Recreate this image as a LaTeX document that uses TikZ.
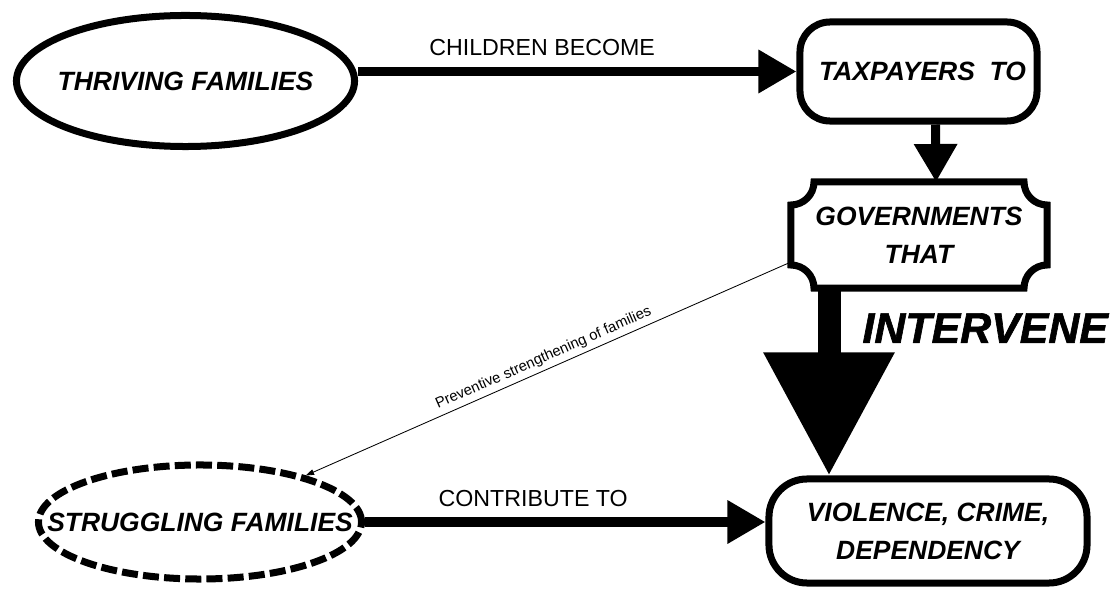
\documentclass[tikz,border=0pt]{standalone}
\usepackage{fontspec}
\setmainfont{Liberation Sans}
\newfontfamily\heavyfont{Liberation Sans}[UprightFont={* Bold Italic},FakeBold=1.5]
\usetikzlibrary{calc,arrows.meta,shapes.geometric}

\begin{document}
\begin{tikzpicture}[x=0.025cm,y=-0.025cm,
  boxline/.style={line width=0.175cm},
  boxtext/.style={font=\fontsize{18.8}{27}\selectfont\bfseries\itshape,align=center,inner sep=0pt},
  oval/.style={ellipse,draw,boxline,boxtext,inner xsep=-1.2cm},
  flow/.style={line width=0.225cm,-{Triangle[length=0.95cm,width=1.03cm]}},
  flowlabel/.style={font=\fontsize{16.5}{20}\selectfont,inner sep=0pt,above=0.275cm}]
  \def\r{0.575cm}
  \useasboundingbox (0,0) rectangle (1120,590);
  % Top row: thriving families pay in.
  \node[oval,minimum width=8.45cm,minimum height=3.275cm] (thr) at (185.5,81) {THRIVING FAMILIES};
  \node[draw,boxline,boxtext,rounded corners=0.75cm,minimum width=5.925cm,minimum height=2.475cm] (tax) at (918.5,71.5) {\hspace*{0.2cm}TAXPAYERS\ \ TO};
  % Governments: box with corners cut inwards.
  \node[boxtext,minimum width=6.4cm,minimum height=2.65cm,outer sep=0pt] (gov) at (919,235) {GOVERNMENTS\\THAT};
  \draw[boxline] ($(gov.north west)+(23,0)$) arc[start angle=0,end angle=-90,radius=\r]
    -- ($(gov.south west)+(0,-23)$) arc[start angle=90,end angle=0,radius=\r]
    -- ($(gov.south east)+(-23,0)$) arc[start angle=180,end angle=90,radius=\r]
    -- ($(gov.north east)+(0,23)$) arc[start angle=270,end angle=180,radius=\r] -- cycle;
  % Bottom row: struggling families cost.
  \node[draw,boxline,boxtext,rounded corners=0.95cm,minimum width=7.95cm,minimum height=2.6cm] (vio) at (928,531) {VIOLENCE, CRIME,\\DEPENDENCY};
  \node[oval,dash pattern=on 0.4cm off 0.13cm,minimum width=8.075cm,minimum height=2.85cm] (str) at (200,522) {STRUGGLING FAMILIES};
  % Connectors.
  \draw[flow] (thr.east |- tax.west) -- node[flowlabel,pos=0.42] {CHILDREN BECOME} (tax.west);
  \draw[flow] ($(tax.south)+(17,0)$) -- ($(gov.north)+(17,0)$);
  \draw[line width=0.575cm,-{Triangle[length=3.075cm,width=3.125cm]}] ($(gov.south)+(-90,0)$)
    -- node[pos=0.214,right=0.55cm,inner sep=0pt,font=\heavyfont\fontsize{30.5}{34}\selectfont] {INTERVENE} ($(vio.north)+(-99,0)$);
  \draw[flow] (str.east) -- node[flowlabel,pos=0.42] {CONTRIBUTE TO} (str.east -| vio.west);
  \draw[line width=0.6pt,-{Triangle[length=6pt,width=4pt]}] ($(gov.west)+(0,27)$)
    -- node[sloped,above=2pt,midway,inner sep=1pt,font=\fontsize{10.5}{12}\selectfont] {Preventive strengthening of families} (str);
\end{tikzpicture}
\end{document}
